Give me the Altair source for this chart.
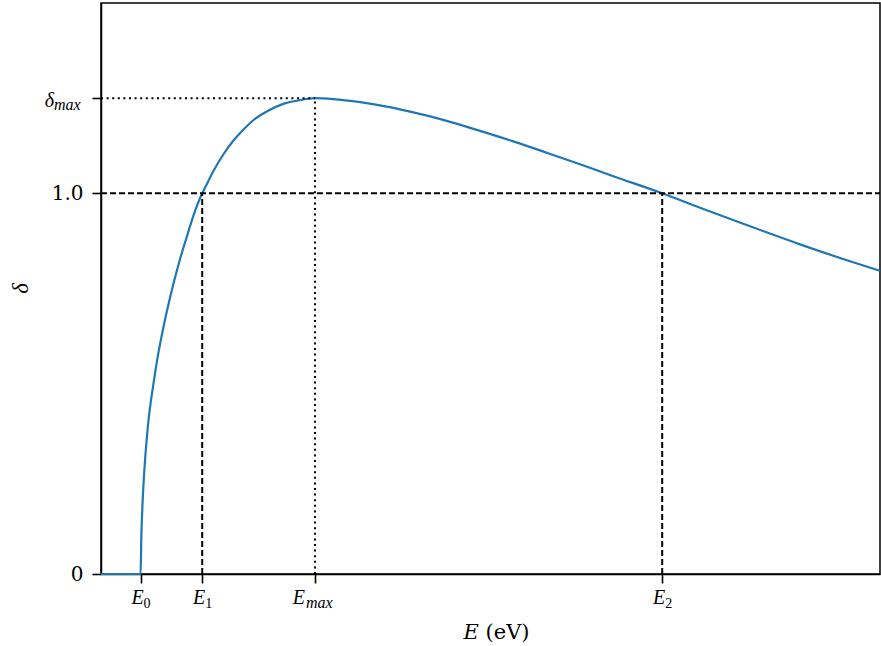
import altair as alt
import pandas as pd

# Key energies (eV, scale) and yields
E0, E1, EMAX, E2 = 99.0, 253.0, 535.0, 1403.0
X_MAX = 1947.5
DELTA_MAX = 1.25
Y_MAX = 1.5

# Yield curve
curve_E = [0, 99, 100.75, 104.25, 109.25, 117.5, 131.75, 142.5, 152.5, 164.25,
           180.75, 197.5, 214.25, 230.75, 253, 260, 280.75, 305.75, 330.75,
           355.75, 380.75, 414.25, 455.75, 497.5, 535, 580.75, 622.5, 664.25,
           714.25, 764.25, 822.5, 864.25, 947.5, 1030.75, 1114.25, 1197.5,
           1280.75, 1403, 1497.5, 1622.5, 1747.5, 1872.5, 1947.5]
curve_d = [0, 0, 0.0945, 0.194, 0.286, 0.391, 0.504, 0.575, 0.630, 0.688,
           0.761, 0.827, 0.885, 0.940, 1.0, 1.0144, 1.058, 1.102, 1.138,
           1.167, 1.192, 1.215, 1.235, 1.245, 1.25, 1.2475, 1.243, 1.237,
           1.2276, 1.2165, 1.2021, 1.1903, 1.1640, 1.1365, 1.1068, 1.0764,
           1.0451, 1.0, 0.962, 0.9134, 0.866, 0.8215, 0.7966]

x_tick_values = [E0, E1, EMAX, E2]
x_tick_labels = ["E_0", "E_1", "E_max", "E_2"]
y_tick_values = [0, 1.0, DELTA_MAX]
y_tick_labels = ["0", "1.0", "δ_max"]

PX_W, PX_H = 779, 571


def label_expr(values, labels):
    expr = "''"
    for v, l in reversed(list(zip(values, labels))):
        if "_" in l:
            continue
        expr = f"datum.value == {v} ? '{l}' : ({expr})"
    return expr


curve = pd.DataFrame({"E": curve_E, "d": curve_d})
dashed = pd.DataFrame({
    "x": [0, E1, E2], "x2": [X_MAX, E1, E2],
    "y": [1.0, 0, 0], "y2": [1.0, 1.0, 1.0],
})
dotted = pd.DataFrame({
    "x": [0, EMAX], "x2": [EMAX, EMAX],
    "y": [DELTA_MAX, 0], "y2": [DELTA_MAX, DELTA_MAX],
})

# math-style tick labels (main symbol + subscript)
xlab = pd.DataFrame({
    "v": x_tick_values,
    "main": [l.split("_")[0] for l in x_tick_labels],
    "sub": [l.split("_")[1] for l in x_tick_labels],
})
xlab["kind"] = ["digit" if s.isdigit() else "letter" for s in xlab["sub"]]
ylab = pd.DataFrame({
    "v": [v for v, l in zip(y_tick_values, y_tick_labels) if "_" in l],
    "main": [l.split("_")[0] for l in y_tick_labels if "_" in l],
    "sub": [l.split("_")[1] for l in y_tick_labels if "_" in l],
})

xscale = alt.Scale(domain=[0, X_MAX], nice=False, zero=False)
yscale = alt.Scale(domain=[0, Y_MAX], nice=False, zero=False)

MATH = "Liberation Serif"

xaxis = alt.Axis(values=x_tick_values, labels=False, title="𝐸 (eV)", grid=False,
                 titleX=395, titleY=64, titleBaseline="alphabetic")
yaxis = alt.Axis(values=y_tick_values, labelExpr=label_expr(y_tick_values, y_tick_labels),
                 title="δ", grid=False, titleX=-74, titleY=285, titleBaseline="alphabetic",
                 titleAngle=270, titleFont=MATH, titleFontStyle="italic", titleFontSize=23)

line = alt.Chart(curve).mark_line(color="#1f77b4", strokeWidth=2.2, interpolate="monotone").encode(
    x=alt.X("E:Q", scale=xscale, axis=xaxis),
    y=alt.Y("d:Q", scale=yscale, axis=yaxis),
)

dash_rules = alt.Chart(dashed).mark_rule(color="black", strokeWidth=2, strokeDash=[6, 3]).encode(
    x=alt.X("x:Q", scale=xscale), x2="x2:Q",
    y=alt.Y("y:Q", scale=yscale), y2="y2:Q",
)
dot_rules = alt.Chart(dotted).mark_rule(color="black", strokeWidth=2, strokeDash=[2, 3.6]).encode(
    x=alt.X("x:Q", scale=xscale), x2="x2:Q",
    y=alt.Y("y:Q", scale=yscale), y2="y2:Q",
)

lab_y = alt.value(PX_H + 30)
sub_y = alt.value(PX_H + 34)

def xlab_layers(kind, shift):
    base = alt.Chart(xlab).transform_filter(alt.datum.kind == kind)
    main = base.mark_text(font=MATH, fontStyle="italic", fontSize=20, align="right",
                          baseline="alphabetic", dx=shift, color="black").encode(
        x=alt.X("v:Q", scale=xscale), y=lab_y, text="main:N")
    sub = base.mark_text(font=MATH, fontStyle="italic" if kind == "letter" else "normal",
                         fontSize=16 if kind == "letter" else 14, align="left",
                         baseline="alphabetic", dx=shift + (1 if kind == "letter" else 0),
                         color="black").encode(
        x=alt.X("v:Q", scale=xscale), y=sub_y, text="sub:N")
    return [main, sub]

label_layers = xlab_layers("digit", 3) + xlab_layers("letter", -10)

ymain = alt.Chart(ylab).mark_text(font=MATH, fontStyle="italic", fontSize=20, align="right",
                                  baseline="alphabetic", dy=8.5, color="black").encode(
    x=alt.value(-47), y=alt.Y("v:Q", scale=yscale), text="main:N")
ysub = alt.Chart(ylab).mark_text(font=MATH, fontStyle="italic", fontSize=16, align="left",
                                 baseline="alphabetic", dy=12, color="black").encode(
    x=alt.value(-47), y=alt.Y("v:Q", scale=yscale), text="sub:N")

chart = alt.layer(line, dash_rules, dot_rules, *label_layers, ymain, ysub).properties(
    width=PX_W, height=PX_H,
    autosize=alt.AutoSizeParams(type="none"),
    padding={"left": 101, "top": 3, "right": 1, "bottom": 72},
).configure_view(
    stroke="black", strokeWidth=1.5,
).configure_axis(
    domainColor="black", domainWidth=1.5,
    tickColor="black", tickWidth=1.6, tickSize=9,
    labelColor="black", labelFont="DejaVu Serif", labelFontSize=20,
    titleColor="black", titleFont="DejaVu Serif", titleFontSize=21, titleFontWeight="normal",
).configure_axisY(
    labelPadding=9,
)

chart.save("out.html", embed_options={"renderer": "svg", "actions": False})
